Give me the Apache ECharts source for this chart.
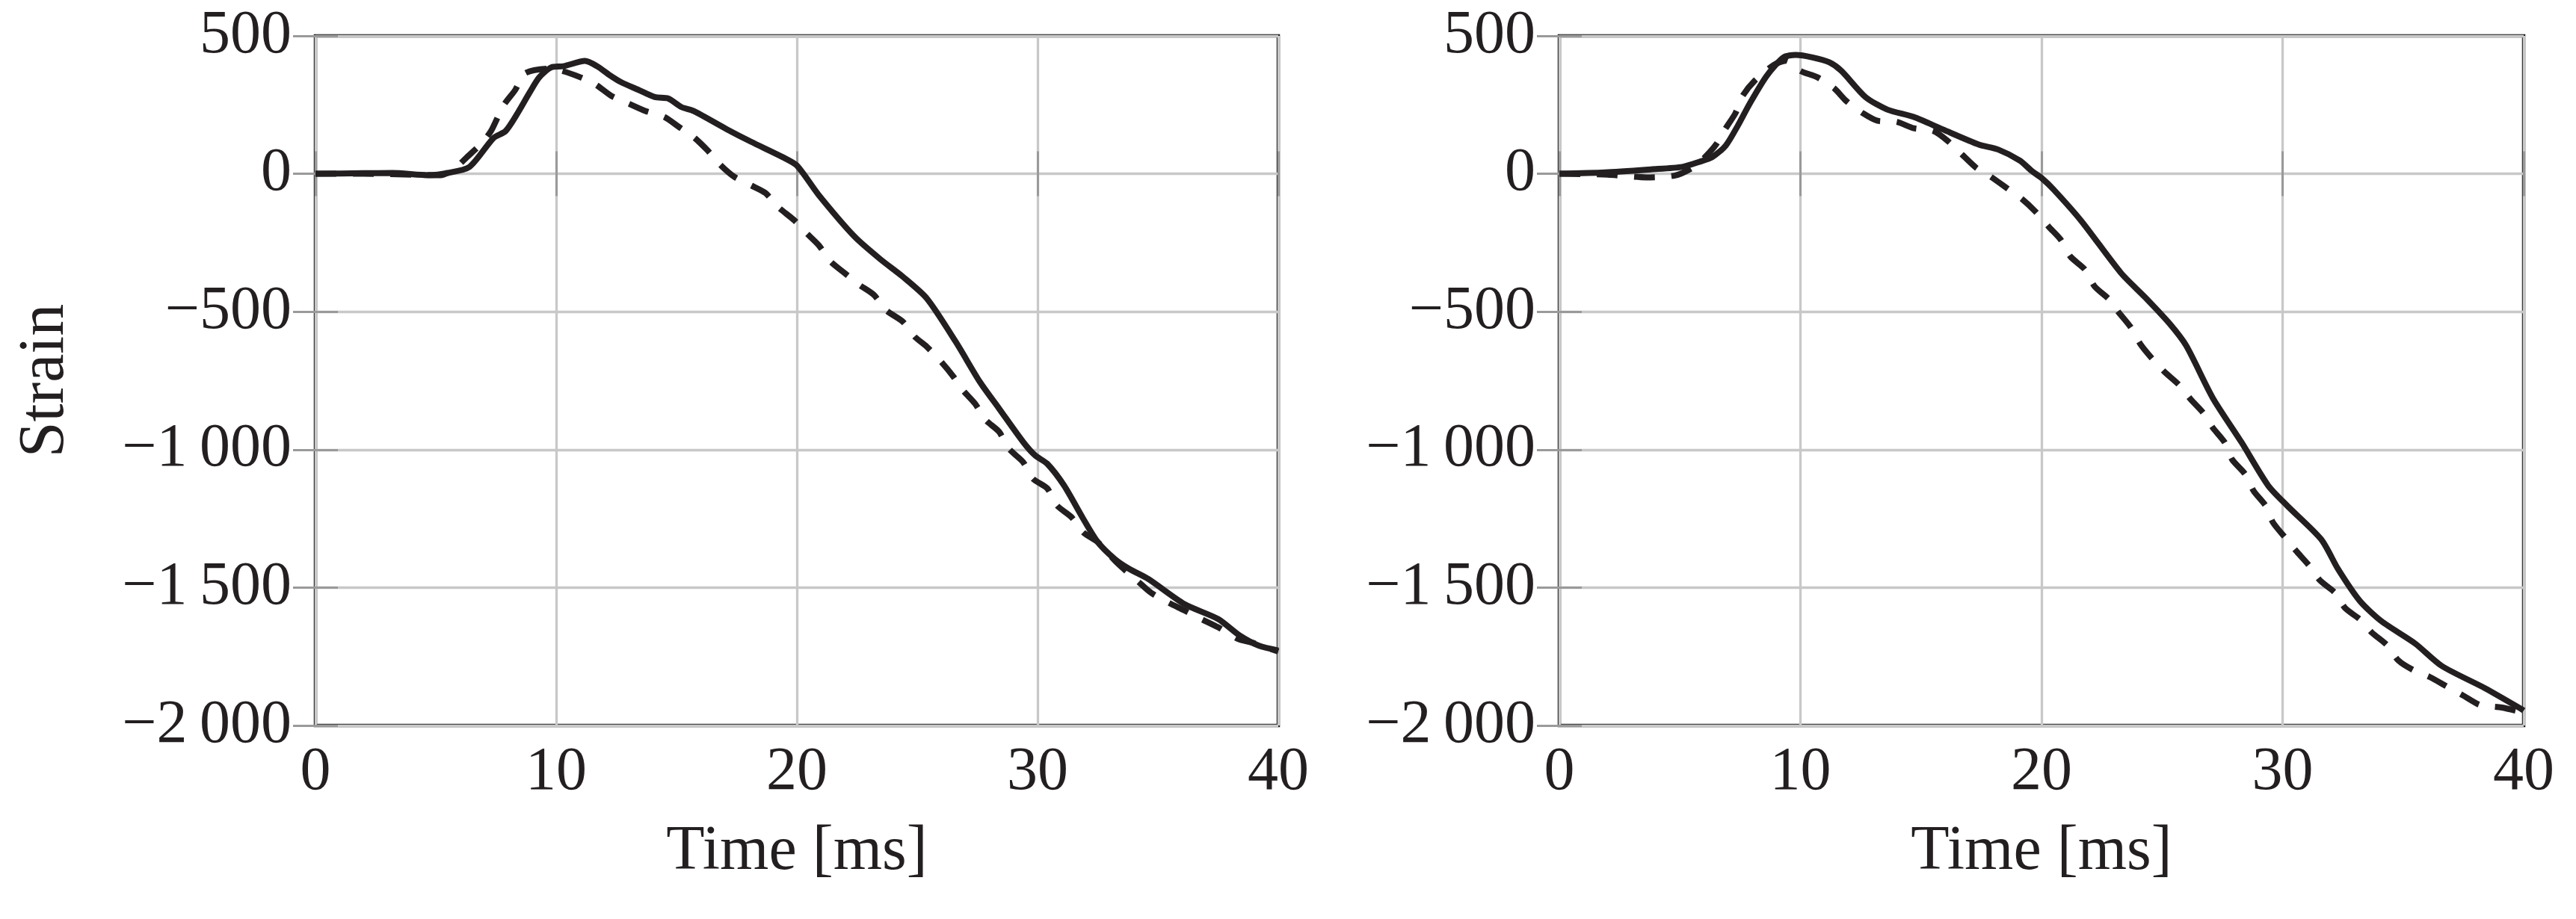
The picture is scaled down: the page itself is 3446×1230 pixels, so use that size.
<!DOCTYPE html>
<html>
<head>
<meta charset="utf-8">
<script src="https://cdn.jsdelivr.net/npm/echarts@6/dist/echarts.min.js"></script>
<style>
  html, body { margin: 0; padding: 0; background: #fff; }
  #main { width: 3446px; height: 1230px; }
</style>
</head>
<body>
<div id="main"></div>
<script>
// left panel, solid
var leftSolidT = [0, 2, 3.2, 4.7, 5.5, 6.4, 7.4, 7.9, 8.4, 8.9, 9.3, 9.8, 10.3, 11.2, 11.7, 12.2, 12.7, 13.4, 14.1, 14.65, 15.2, 15.7, 17.1, 18.1, 19.4, 20, 20.9, 22.4, 23.5, 24.4, 25.4, 26.6, 27.6, 28.4, 29.4, 29.9, 30.4, 31.1, 31.9, 32.5, 33.2, 33.8, 34.6, 36.1, 37.5, 38.4, 39.2, 40];
var leftSolid = [0, 2, 3, -5, 3, 25, 130, 155, 220, 295, 350, 386, 390, 409, 390, 359, 332, 305, 278, 273, 242, 228, 161, 116, 61, 30, -76, -228, -312, -373, -452, -609, -754, -851, -972, -1021, -1051, -1130, -1251, -1335, -1396, -1432, -1469, -1560, -1614, -1674, -1711, -1728];
// left panel, dashed
var leftDashT = [0, 2, 4, 5.2, 5.8, 6.3, 6.9, 7.3, 7.8, 8.3, 8.7, 9.7, 10.25, 11.0, 11.65, 12.3, 13.0, 13.7, 14.5, 15.1, 15.7, 16.3, 16.8, 17.4, 18.1, 18.7, 19.2, 19.9, 20.4, 20.9, 21.4, 22.0, 22.6, 23.2, 23.7, 24.4, 24.9, 25.4, 26.0, 26.5, 26.9, 27.4, 27.85, 28.4, 28.8, 29.4, 29.8, 30.4, 30.8, 31.4, 31.9, 32.5, 33.3, 34.2, 34.7, 35.4, 36.1, 36.8, 37.5, 38.35, 38.9, 40];
var leftDash = [0, 0, -3, -5, 20, 61, 110, 156, 246, 304, 364, 381, 373, 350, 323, 282, 255, 228, 206, 170, 134, 84, 34, -11, -42, -70, -119, -169, -215, -258, -318, -361, -403, -439, -494, -536, -591, -627, -682, -735, -785, -833, -893, -935, -996, -1045, -1105, -1140, -1202, -1244, -1300, -1335, -1410, -1480, -1518, -1553, -1583, -1614, -1644, -1687, -1699, -1732];
// right panel, solid
var rightSolidT = [0, 1.9, 3.8, 5.1, 5.8, 6.35, 6.9, 7.4, 7.9, 8.6, 9.3, 9.8, 10.5, 11.2, 11.7, 12.7, 13.6, 14.7, 15.9, 17.4, 18.2, 19.1, 19.6, 20, 20.5, 21.65, 23.3, 24.3, 25.3, 26.0, 27.1, 28.3, 29.4, 30.2, 31.6, 32.3, 33.2, 34.1, 35.5, 36.6, 38.4, 39.9, 40];
var rightSolid = [0, 5, 16, 25, 43, 61, 102, 174, 255, 355, 422, 431, 422, 404, 373, 278, 233, 206, 161, 106, 88, 48, 10, -15, -57, -171, -360, -448, -542, -623, -812, -974, -1130, -1204, -1325, -1433, -1548, -1622, -1703, -1784, -1865, -1940, -1946];
// right panel, dashed
var rightDashT = [0, 2, 3.6, 4.8, 5.5, 6.0, 6.5, 6.9, 7.3, 7.6, 8.1, 8.9, 9.4, 10.0, 10.7, 11.4, 11.9, 12.6, 13.2, 14.0, 14.7, 15.5, 16.1, 16.7, 17.3, 17.9, 18.55, 19.2, 19.75, 20.3, 20.8, 21.2, 21.8, 22.2, 22.8, 23.2, 23.7, 24.1, 24.6, 25.1, 25.7, 26.2, 26.7, 27.1, 27.6, 27.9, 28.45, 28.8, 29.3, 29.6, 30.1, 30.55, 31.1, 31.55, 32.2, 32.6, 33.2, 33.7, 34.35, 34.8, 35.4, 36.1, 36.8, 37.5, 38.2, 39.1, 40];
var rightDash = [0, -3, -13, -6, 21, 57, 106, 165, 219, 282, 337, 395, 410, 373, 350, 310, 264, 219, 192, 188, 165, 156, 120, 70, 21, -11, -51, -92, -137, -192, -239, -300, -347, -408, -455, -502, -556, -617, -671, -718, -765, -819, -866, -920, -974, -1035, -1089, -1150, -1204, -1264, -1318, -1366, -1420, -1474, -1521, -1575, -1615, -1663, -1710, -1764, -1798, -1824, -1858, -1892, -1926, -1935, -1953];

var xTicks = [0, 10, 20, 30, 40];
var yTicks = [-2000, -1500, -1000, -500, 0, 500];

var ink = '#231f20';
var font = 'Liberation Serif';

function pairs(t, v) {
  var out = [];
  for (var i = 0; i < t.length; i++) out.push([t[i], v[i]]);
  return out;
}

function yFmt(v) {
  var a = Math.abs(v), s = String(a);
  if (a >= 1000) s = Math.floor(a / 1000) + '\u2009' + s.slice(-3);
  return (v < 0 ? '\u2212' : '') + s;
}

var chart = echarts.init(document.getElementById('main'));

var grids = [
  { left: 422, top: 48, width: 1288, height: 923 },
  { left: 2086, top: 48, width: 1290, height: 923 }
];

var xAxes = [], yAxes = [];
grids.forEach(function (g, i) {
  g.show = true;
  g.borderColor = ink;
  g.borderWidth = 4.5;
  g.backgroundColor = 'transparent';
  // bottom axis with labels
  xAxes.push({
    type: 'value', gridIndex: i, min: xTicks[0], max: xTicks[xTicks.length - 1], interval: 10,
    name: 'Time [ms]', nameLocation: 'middle', nameGap: 128,
    nameTextStyle: { fontFamily: font, fontSize: 84, color: ink },
    axisLine: { show: false },
    axisTick: { show: true, inside: true, length: 30, lineStyle: { color: '#9a9a9a', width: 3 } },
    axisLabel: { fontFamily: font, fontSize: 82, color: ink, margin: 22 },
    splitLine: { show: true, lineStyle: { color: '#c8c8c8', width: 3.3 } }
  });
  // top ticks only
  xAxes.push({
    type: 'value', gridIndex: i, position: 'top', min: 0, max: 40, interval: 10,
    axisLine: { show: false },
    axisTick: { show: true, inside: true, length: 30, lineStyle: { color: '#9a9a9a', width: 3 } },
    axisLabel: { show: false },
    splitLine: { show: false }
  });
  yAxes.push({
    type: 'value', gridIndex: i, min: yTicks[0], max: yTicks[yTicks.length - 1], interval: 500,
    name: i === 0 ? 'Strain' : '', nameLocation: 'middle', nameGap: 318,
    nameTextStyle: { fontFamily: font, fontSize: 86, color: ink },
    axisLine: { show: false },
    axisTick: { show: true, inside: true, length: 30, lineStyle: { color: '#9a9a9a', width: 3 } },
    axisLabel: { fontFamily: font, fontSize: 82, color: ink, margin: 32, formatter: yFmt },
    splitLine: { show: true, lineStyle: { color: '#c8c8c8', width: 3.3 } }
  });
  yAxes.push({
    type: 'value', gridIndex: i, position: 'right', min: -2000, max: 500, interval: 500,
    axisLine: { show: false },
    axisTick: { show: true, inside: true, length: 30, lineStyle: { color: '#9a9a9a', width: 3 } },
    axisLabel: { show: false },
    splitLine: { show: false }
  });
});

function line(t, v, panel, dashed) {
  return {
    type: 'line',
    xAxisIndex: panel * 2,
    yAxisIndex: panel * 2,
    data: pairs(t, v),
    showSymbol: false,
    smooth: 0.25,
    z: dashed ? 3 : 4,
    lineStyle: { color: ink, width: 8, type: dashed ? [28, 22] : 'solid', cap: 'butt' }
  };
}

var option = {
  backgroundColor: '#fff',
  animation: false,
  grid: grids,
  xAxis: xAxes,
  yAxis: yAxes,
  series: [
    line(leftDashT, leftDash, 0, true),
    line(leftSolidT, leftSolid, 0, false),
    line(rightDashT, rightDash, 1, true),
    line(rightSolidT, rightSolid, 1, false)
  ]
};
chart.setOption(option);
</script>
</body>
</html>
